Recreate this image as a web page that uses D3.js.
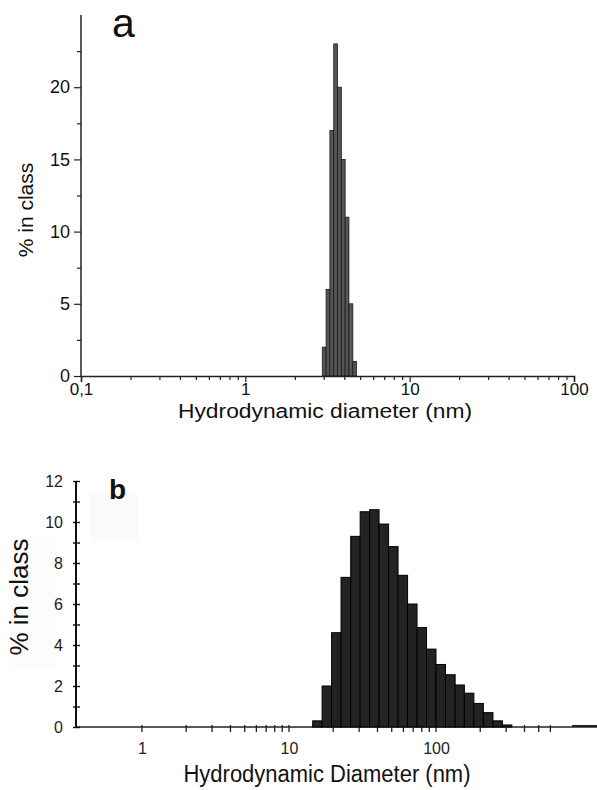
<!DOCTYPE html>
<html><head><meta charset="utf-8">
<script src="https://cdn.jsdelivr.net/npm/d3@7"></script>
<style>html,body{margin:0;padding:0;background:#fff;}svg{display:block;}</style>
</head><body>
<svg id="chart" width="597" height="790"></svg>
<script>
// ---------- Panel a data ----------
const aEdges = [2.94, 3.10, 3.27, 3.45, 3.64, 3.84, 4.05, 4.27, 4.51, 4.75];
const aValues = [2, 6, 17, 23, 20, 15, 11, 5, 1];
const aXTicks = [0.1, 1, 10, 100];
const aXTickLabels = ["0,1", "1", "10", "100"];
const aXMinor = [0.2,0.3,0.4,0.5,0.6,0.7,0.8,0.9,2,3,4,5,6,7,8,9,20,30,40,50,60,70,80,90];
const aYTicks = [0, 5, 10, 15, 20];
const aYMinor = [2.5, 7.5, 12.5, 17.5, 22.5];
const aTitleX = "Hydrodynamic diameter (nm)";
const aTitleY = "% in class";

// ---------- Panel b data ----------
const bEdges = [14.5, 16.8, 19.5, 22.6, 26.3, 30.5, 35.4, 41.0, 47.6, 55.2, 64.1, 74.3, 86.2, 100, 116, 135, 156, 181, 210, 244, 283, 328];
const bValues = [0.3, 2.0, 4.6, 7.3, 9.3, 10.5, 10.6, 9.9, 8.8, 7.4, 6.0, 4.85, 3.8, 3.05, 2.55, 2.05, 1.65, 1.15, 0.7, 0.3, 0.1];
const bTailEdges = [842, 1245];
const bTailValue = 0.05;
const bXTicks = [1, 10, 100];
const bXTickLabels = ["1", "10", "100"];
const bXMinor = [2,3,4,5,6,7,8,9,20,30,40,50,60,70,80,90,200,300,400,500,600];
const bYTicks = [0, 2, 4, 6, 8, 10, 12];
const bYMinor = [1, 3, 5, 7, 9, 11];
const bTitleX = "Hydrodynamic Diameter (nm)";
const bTitleY = "% in class";

const svg = d3.select("#chart");

// ================= Panel a =================
(function(){
  const x = d3.scaleLog().domain([0.1, 100]).range([81, 574]);
  const y = d3.scaleLinear().domain([0, 25]).range([376, 15]);
  const g = svg.append("g");
  const font = "Liberation Sans, Arial, Helvetica, sans-serif";

  // bars
  const bins = aValues.map((v, i) => ({x0: aEdges[i], x1: aEdges[i+1], v}));
  g.selectAll("rect.bar").data(bins).join("rect")
    .attr("x", d => x(d.x0)).attr("width", d => x(d.x1) - x(d.x0))
    .attr("y", d => y(d.v)).attr("height", d => y(0) - y(d.v))
    .attr("fill", "#555").attr("stroke", "#1a1a1a").attr("stroke-width", 0.8);

  // x axis
  const xAxis = d3.axisBottom(x).tickValues(aXTicks).tickFormat((d,i) => aXTickLabels[i]).tickSize(6).tickPadding(1);
  const gx = g.append("g").attr("transform", `translate(0,${y(0)})`).call(xAxis);
  gx.select(".domain").attr("stroke", "#222").attr("stroke-width", 1.5);
  gx.selectAll(".tick line").attr("stroke", "#222").attr("stroke-width", 1.2);
  gx.selectAll(".tick text").attr("font-family", font).attr("font-size", 17).attr("fill", "#111");
  const gxm = d3.axisBottom(x).tickValues(aXMinor).tickFormat("").tickSize(4);
  const gxm2 = g.append("g").attr("transform", `translate(0,${y(0)})`).call(gxm);
  gxm2.select(".domain").remove();
  gxm2.selectAll(".tick line").attr("stroke", "#222").attr("stroke-width", 1.2);

  // y axis
  const yAxis = d3.axisLeft(y).tickValues(aYTicks).tickSize(7).tickPadding(4);
  const gy = g.append("g").attr("transform", `translate(${x(0.1)},0)`).call(yAxis);
  gy.select(".domain").attr("stroke", "#222").attr("stroke-width", 1.5).attr("d", `M0,${y(0)}V${y(25)}`);
  gy.selectAll(".tick line").attr("stroke", "#222").attr("stroke-width", 1.2);
  gy.selectAll(".tick text").attr("font-family", font).attr("font-size", 18).attr("fill", "#111");
  const gym = g.append("g").attr("transform", `translate(${x(0.1)},0)`).call(d3.axisLeft(y).tickValues(aYMinor).tickFormat("").tickSize(4));
  gym.select(".domain").remove();
  gym.selectAll(".tick line").attr("stroke", "#222").attr("stroke-width", 1.2);

  // titles
  g.append("text").attr("x", 325).attr("y", 418).attr("text-anchor", "middle")
    .attr("font-family", font).attr("font-size", 20).attr("fill", "#111")
    .attr("textLength", 294).attr("lengthAdjust", "spacingAndGlyphs").text(aTitleX);
  g.append("text").attr("transform", "translate(33,210) rotate(-90)").attr("text-anchor", "middle")
    .attr("font-family", font).attr("font-size", 21).attr("fill", "#111").text(aTitleY);
  g.append("text").attr("x", 112).attr("y", 37)
    .attr("font-family", font).attr("font-size", 41).attr("fill", "#111").text("a");
})();

// ================= Panel b =================
(function(){
  const x = d3.scaleLog().domain([0.356, 1245]).range([76, 597]);
  const y = d3.scaleLinear().domain([0, 12]).range([727, 481]);
  const g = svg.append("g");
  const font = "Liberation Sans, Arial, Helvetica, sans-serif";

  // faint background boxes (scan artefacts)
  g.append("rect").attr("x", 90).attr("y", 492).attr("width", 48).attr("height", 50).attr("fill", "#fbfbfb");
  g.append("rect").attr("x", 10).attr("y", 537).attr("width", 47).attr("height", 130).attr("fill", "#fcfcfc");

  // x minor + major ticks (drawn under bars)
  const allXT = bXTicks.concat(bXMinor);
  g.append("g").selectAll("line").data(allXT).join("line")
    .attr("x1", d => x(d)).attr("x2", d => x(d))
    .attr("y1", y(0) - 2).attr("y2", y(0) + 5)
    .attr("stroke", "#222").attr("stroke-width", 1.3);

  // x axis line
  g.append("line").attr("x1", 76).attr("x2", 597).attr("y1", y(0)).attr("y2", y(0))
    .attr("stroke", "#222").attr("stroke-width", 1.4);

  // bars
  const bins = bValues.map((v, i) => ({x0: bEdges[i], x1: bEdges[i+1], v}));
  g.selectAll("rect.bar").data(bins).join("rect")
    .attr("x", d => x(d.x0)).attr("width", d => x(d.x1) - x(d.x0))
    .attr("y", d => y(d.v)).attr("height", d => y(0) - y(d.v))
    .attr("fill", "#232323").attr("stroke", "#000").attr("stroke-width", 1);
  g.append("rect").attr("x", x(bTailEdges[0])).attr("width", x(bTailEdges[1]) - x(bTailEdges[0]))
    .attr("y", y(bTailValue) - 1).attr("height", y(0) - y(bTailValue) + 1).attr("fill", "#222");

  // x labels
  const xl = d3.axisBottom(x).tickValues(bXTicks).tickFormat((d,i) => bXTickLabels[i]).tickSize(0).tickPadding(16);
  const gx = g.append("g").attr("transform", `translate(0,${y(0)})`).call(xl);
  gx.select(".domain").remove();
  gx.selectAll(".tick text").attr("font-family", font).attr("font-size", 16).attr("fill", "#222");

  // y axis
  g.append("line").attr("x1", 76).attr("x2", 76).attr("y1", y(0)).attr("y2", y(12))
    .attr("stroke", "#111").attr("stroke-width", 2);
  const gy = g.append("g").attr("transform", `translate(80,0)`)
    .call(d3.axisLeft(y).tickValues(bYTicks).tickSize(7).tickPadding(10));
  gy.select(".domain").remove();
  gy.selectAll(".tick line").attr("stroke", "#111").attr("stroke-width", 1.4);
  gy.selectAll(".tick text").attr("font-family", font).attr("font-size", 16).attr("fill", "#222");
  const gym = g.append("g").attr("transform", `translate(80,0)`)
    .call(d3.axisLeft(y).tickValues(bYMinor).tickFormat("").tickSize(7));
  gym.select(".domain").remove();
  gym.selectAll(".tick line").attr("stroke", "#111").attr("stroke-width", 1.4);

  // titles
  g.append("text").attr("x", 327).attr("y", 782).attr("text-anchor", "middle")
    .attr("font-family", font).attr("font-size", 23).attr("fill", "#111")
    .attr("textLength", 287).attr("lengthAdjust", "spacingAndGlyphs").text(bTitleX);
  g.append("text").attr("transform", "translate(28,597) rotate(-90)").attr("text-anchor", "middle")
    .attr("font-family", font).attr("font-size", 26).attr("fill", "#111").text(bTitleY);
  g.append("text").attr("x", 109).attr("y", 499)
    .attr("font-family", font).attr("font-size", 28).attr("font-weight", "bold").attr("fill", "#111").text("b");
})();
</script>
</body></html>
